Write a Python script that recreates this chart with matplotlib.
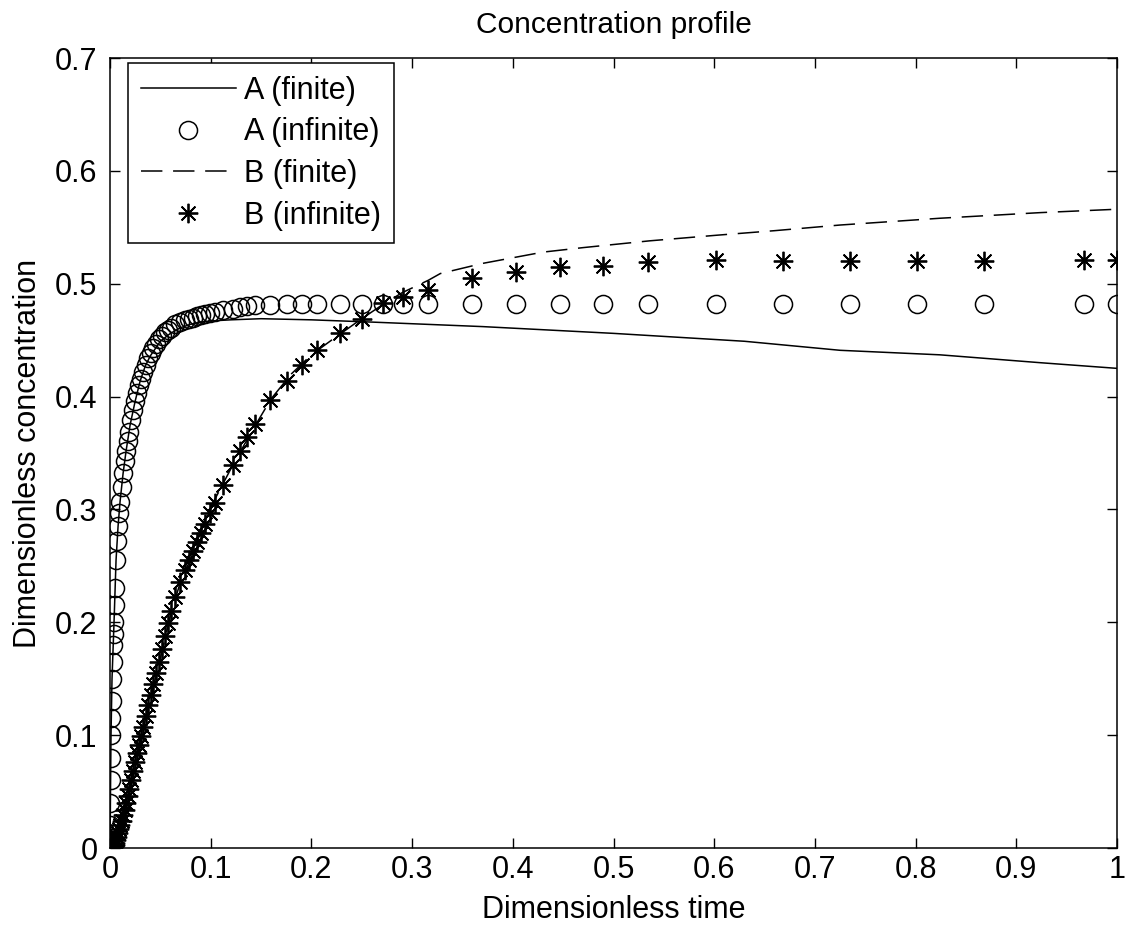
import matplotlib
matplotlib.use("Agg")
import matplotlib.pyplot as plt

# time points of the "infinite" solution (shared by A and B)
t_inf = [0, 0.0002, 0.0004, 0.0006, 0.0008, 0.001, 0.0013, 0.0016, 0.002, 0.0025,
         0.003, 0.0035, 0.004, 0.0045, 0.005, 0.006, 0.007, 0.008, 0.009, 0.010,
         0.0115, 0.013, 0.0145, 0.016, 0.0175, 0.019, 0.021, 0.023, 0.025, 0.027,
         0.029, 0.031, 0.033, 0.0355, 0.038, 0.0405, 0.043, 0.046, 0.049, 0.052,
         0.055, 0.058, 0.061, 0.065, 0.070, 0.074, 0.078, 0.082, 0.086, 0.090,
         0.094, 0.099, 0.104, 0.112, 0.122, 0.129, 0.136, 0.144, 0.159, 0.176,
         0.191, 0.206, 0.228, 0.250, 0.271, 0.291, 0.316, 0.359, 0.403, 0.447,
         0.490, 0.534, 0.602, 0.668, 0.735, 0.801, 0.868, 0.967, 1.0]
a_inf = [0, 0.02, 0.04, 0.06, 0.08, 0.10, 0.115, 0.13, 0.15, 0.165,
         0.18, 0.19, 0.20, 0.215, 0.23, 0.255, 0.272, 0.285, 0.297, 0.307,
         0.320, 0.332, 0.343, 0.352, 0.361, 0.369, 0.379, 0.388, 0.396, 0.403,
         0.410, 0.416, 0.422, 0.428, 0.434, 0.439, 0.443, 0.447, 0.451, 0.454,
         0.457, 0.459, 0.461, 0.464, 0.466, 0.468, 0.469, 0.470, 0.471, 0.472,
         0.473, 0.474, 0.475, 0.477, 0.478, 0.479, 0.480, 0.481, 0.481, 0.482,
         0.482, 0.482, 0.482, 0.482, 0.482, 0.482, 0.482, 0.482, 0.482, 0.482,
         0.482, 0.482, 0.482, 0.482, 0.482, 0.482, 0.482, 0.482, 0.482]
b_inf = [0, 0, 0, 0, 0, 0, 0, 0, 0.001, 0.001,
         0.001, 0.002, 0.002, 0.003, 0.004, 0.007, 0.010, 0.013, 0.017, 0.020,
         0.024, 0.029, 0.034, 0.040, 0.046, 0.052, 0.060, 0.068, 0.076, 0.084,
         0.091, 0.099, 0.107, 0.117, 0.127, 0.136, 0.145, 0.155, 0.165, 0.176,
         0.188, 0.199, 0.210, 0.222, 0.236, 0.246, 0.255, 0.263, 0.271, 0.279,
         0.287, 0.297, 0.306, 0.322, 0.339, 0.352, 0.364, 0.376, 0.397, 0.414,
         0.428, 0.441, 0.456, 0.469, 0.483, 0.488, 0.494, 0.505, 0.510, 0.515,
         0.516, 0.519, 0.521, 0.520, 0.520, 0.520, 0.520, 0.521, 0.521]

# finite solutions
t_a_fin = [0, 0.001, 0.002, 0.004, 0.006, 0.008, 0.010, 0.013, 0.016, 0.020,
           0.025, 0.030, 0.035, 0.040, 0.050, 0.060, 0.070, 0.080, 0.090, 0.10,
           0.12, 0.15, 0.20, 0.26, 0.37, 0.50, 0.63, 0.725, 0.824, 0.924, 1.0]
a_fin = [0, 0.10, 0.15, 0.20, 0.255, 0.285, 0.307, 0.332, 0.352, 0.375,
         0.396, 0.414, 0.427, 0.436, 0.449, 0.456, 0.461, 0.464, 0.466, 0.467,
         0.468, 0.469, 0.468, 0.466, 0.462, 0.456, 0.449, 0.441, 0.437, 0.430, 0.425]

t_b_fin = [0, 0.004, 0.01, 0.02, 0.03, 0.04, 0.05, 0.06, 0.07, 0.08,
           0.09, 0.10, 0.12, 0.14, 0.16, 0.18, 0.20, 0.22, 0.25, 0.27,
           0.29, 0.316, 0.328, 0.37, 0.43, 0.47, 0.536, 0.603, 0.66, 0.725,
           0.824, 0.924, 1.0]
b_fin = [0, 0.002, 0.020, 0.056, 0.095, 0.132, 0.168, 0.206, 0.236, 0.256,
         0.280, 0.302, 0.336, 0.368, 0.398, 0.420, 0.437, 0.450, 0.469, 0.481,
         0.492, 0.503, 0.509, 0.518, 0.528, 0.532, 0.538, 0.543, 0.547, 0.552,
         0.558, 0.563, 0.566]

x_ticks = [0, 0.1, 0.2, 0.3, 0.4, 0.5, 0.6, 0.7, 0.8, 0.9, 1]
x_tick_labels = ["0", "0.1", "0.2", "0.3", "0.4", "0.5", "0.6", "0.7", "0.8", "0.9", "1"]
y_ticks = [0, 0.1, 0.2, 0.3, 0.4, 0.5, 0.6, 0.7]
y_tick_labels = ["0", "0.1", "0.2", "0.3", "0.4", "0.5", "0.6", "0.7"]

plt.rcParams["font.family"] = ["Liberation Sans", "DejaVu Sans"]
plt.rcParams["font.size"] = 22

fig = plt.figure(figsize=(11.29, 9.30), dpi=100)
ax = fig.add_axes([110 / 1129, 82 / 930, 1007 / 1129, 790 / 930])

asterisk = (8, 2, 0)
ax.plot(t_a_fin, a_fin, color="black", lw=1.1, label="A (finite)")
ax.plot(t_inf, a_inf, ls="none", marker="o", ms=13, mfc="none", mec="black",
        mew=1.1, label="A (infinite)")
ax.plot(t_b_fin, b_fin, color="black", lw=1.1, dashes=(14, 7), label="B (finite)")
ax.plot(t_inf, b_inf, ls="none", marker=asterisk, ms=14, mec="black",
        mew=1.3, label="B (infinite)")

ax.set_xlim(0, 1)
ax.set_ylim(0, 0.7)
ax.set_xticks(x_ticks)
ax.set_xticklabels(x_tick_labels)
ax.set_yticks(y_ticks)
ax.set_yticklabels(y_tick_labels)
ax.tick_params(direction="in", length=7, width=1, top=True, right=True)
ax.tick_params(axis="x", pad=5)
ax.tick_params(axis="y", pad=9)
for s in ax.spines.values():
    s.set_linewidth(1.1)

ax.set_title("Concentration profile", fontsize=21.5, pad=18)
ax.set_xlabel("Dimensionless time")
ax.set_ylabel("Dimensionless concentration")
ax.xaxis.set_label_coords(0.5, -0.06)
ax.yaxis.set_label_coords(-0.067, 0.5)

leg = ax.legend(loc="upper left", bbox_to_anchor=(0.0179, 0.9937), borderaxespad=0,
                fancybox=False, framealpha=1, edgecolor="black", handlelength=3.1,
                handletextpad=0.27, labelspacing=0.38, borderpad=0.42, numpoints=1)
leg.get_frame().set_linewidth(1.1)

fig.savefig("out.png", dpi=100, facecolor="white")
